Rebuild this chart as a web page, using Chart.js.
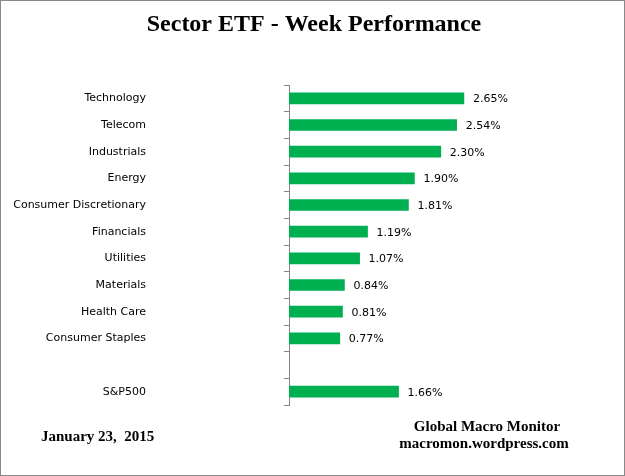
<!DOCTYPE html>
<html>
<head>
<meta charset="utf-8">
<script src="https://cdn.jsdelivr.net/npm/chart.js@4"></script>
<style>
  html, body { margin: 0; padding: 0; background: #fff; }
  #wrap { width: 625px; height: 476px; position: relative; }
</style>
</head>
<body>
<div id="wrap"><canvas id="etfChart"></canvas></div>
<script>
// Sector ETF weekly performance (%)
const sectors = ["Technology", "Telecom", "Industrials", "Energy", "Consumer Discretionary",
    "Financials", "Utilities", "Materials", "Health Care", "Consumer Staples", "", "S&P500"];
const weekReturn = [2.65, 2.54, 2.30, 1.90, 1.81, 1.19, 1.07, 0.84, 0.81, 0.77, null, 1.66];

const titleText = "Sector ETF - Week Performance";
const dateText = "January 23,  2015";
const sourceLines = ["Global Macro Monitor", "macromon.wordpress.com"];

// draws border, title, footer notes and value labels
const decorations = {
    id: "decorations",
    afterDraw(chart) {
        const ctx = chart.ctx;
        ctx.save();
        ctx.strokeStyle = "#888888";
        ctx.lineWidth = 1;
        ctx.strokeRect(0.5, 0.5, chart.width - 1, chart.height - 1);

        ctx.fillStyle = "#000";
        ctx.textAlign = "center";
        ctx.textBaseline = "middle";
        ctx.font = "bold 24px 'Liberation Serif'";
        ctx.fillText(titleText, 314, 25);

        ctx.font = "bold 15px 'Liberation Serif'";
        ctx.textAlign = "left";
        ctx.fillText(dateText, 41, 437);
        ctx.textAlign = "center";
        ctx.fillText(sourceLines[0], 487, 427);
        ctx.fillText(sourceLines[1], 484, 444);

        // value labels
        const meta = chart.getDatasetMeta(0);
        ctx.font = "11px 'DejaVu Sans'";
        ctx.textAlign = "left";
        meta.data.forEach((bar, i) => {
            const v = weekReturn[i];
            if (v === null) return;
            ctx.fillText(v.toFixed(2) + "%", bar.x + 9, bar.y + 1);
        });
        ctx.restore();
    }
};

new Chart(document.getElementById("etfChart"), {
    type: "bar",
    data: {
        labels: sectors,
        datasets: [{
            data: weekReturn,
            backgroundColor: "#00B050",
            barThickness: 11
        }]
    },
    options: {
        indexAxis: "y",
        responsive: true,
        maintainAspectRatio: false,
        animation: false,
        devicePixelRatio: 1,
        layout: { padding: { top: 85, bottom: 71, left: 0, right: 105 } },
        plugins: {
            legend: { display: false },
            tooltip: { enabled: false }
        },
        scales: {
            x: {
                display: false,
                min: 0,
                max: 3.5
            },
            y: {
                afterFit(scale) {
                    scale.width = 289;
                    // big label padding should not push the plot vertically
                    scale.paddingTop = 0;
                    scale.paddingBottom = 0;
                },
                border: { display: true, color: "#868686", width: 1 },
                grid: {
                    offset: true,
                    drawOnChartArea: false,
                    drawTicks: true,
                    tickLength: 5,
                    color: "#868686"
                },
                ticks: {
                    padding: 138,
                    color: "#000",
                    font: { family: "'DejaVu Sans'", size: 11 }
                }
            }
        }
    },
    plugins: [decorations]
});
</script>
</body>
</html>
